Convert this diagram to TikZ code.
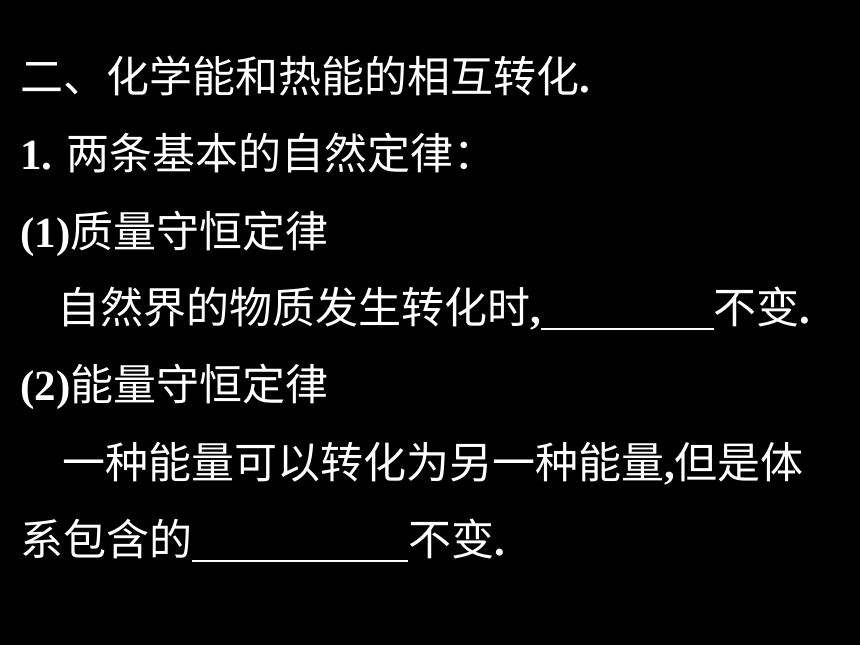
\documentclass[tikz,border=0pt]{standalone}
\usepackage{fontspec}
\setmainfont{Liberation Serif}
\newfontfamily\cjk{Noto Sans CJK SC}
\newcommand{\zh}[1]{{\cjk\mdseries #1}}
\usetikzlibrary{positioning}

\begin{document}
\begin{tikzpicture}[
			x=1pt,y=-1pt,
			every node/.style={inner sep=0pt,anchor=base west,text=white,font=\fontsize{43}{43}\selectfont\bfseries},
			gap/.style={minimum width=#1,text height=0pt,text depth=6pt},
			blank/.style={draw=white,line width=2.5pt},
			node distance=0pt,
		]
		
		\fill[black] (0,0) rectangle (860,645);
		
		\node (title) at (20,92) {\zh{二、化学能和热能的相互转化}.};
		\node (laws) at (20,169) {1. \zh{两条基本的自然定律：}};
		\node (mass) at (20,247) {(1)\zh{质量守恒定律}};
		
		\node (massA) at (57,323) {\zh{自然界的物质发生转化时},};
		\node[gap=172pt] (blankA) [base right=of massA] {};
		\node (massB) [base right=of blankA] {\zh{不变}.};
		
		\node (energy) at (20,400) {(2)\zh{能量守恒定律}};
		\node (energyA) at (62,478) {\zh{一种能量可以转化为另一种能量},\zh{但是体}};
		\node (energyB) at (20,555) {\zh{系包含的}};
		\node[gap=215pt] (blankB) [base right=of energyB] {};
		\node (energyC) [base right=of blankB] {\zh{不变}.};
		
		\draw[blank] (blankA.south west) -- (blankA.south east);
		\draw[blank] (blankB.south west) -- (blankB.south east);
		
	\end{tikzpicture}
\end{document}
